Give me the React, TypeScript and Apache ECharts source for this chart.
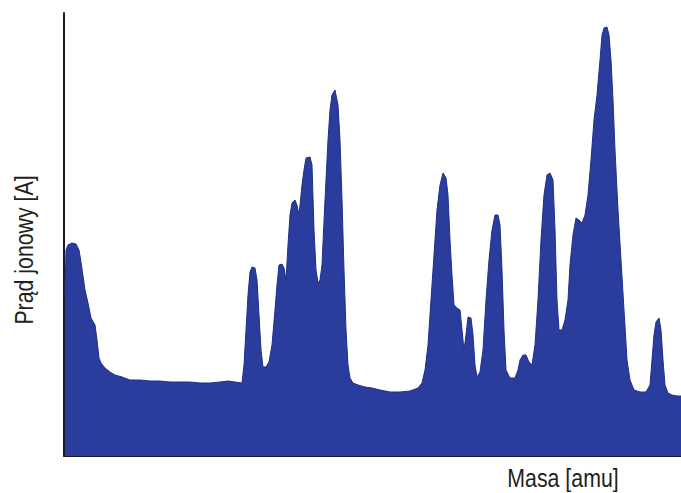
import React, { useEffect, useRef } from "react";
import * as echarts from "echarts";

const masses = [
  1, 2, 4, 8, 12, 15, 17, 21, 24, 27,
  31, 33, 35, 37, 41, 46, 51, 58, 66, 76,
  86, 96, 106, 116, 126, 136, 146, 156, 164, 171,
  178, 180, 182, 184, 186, 188, 191, 193, 195, 197,
  199, 202, 205, 208, 211, 213, 215, 218, 220, 222,
  224, 226, 228, 231, 233, 235, 238, 240, 242, 246,
  248, 250, 252, 254, 256, 258, 261, 264, 266, 268,
  271, 274, 276, 278, 280, 282, 284, 286, 289, 294,
  301, 308, 316, 326, 336, 346, 354, 358, 361, 364,
  367, 370, 373, 376, 379, 382, 384, 386, 388, 390,
  393, 396, 398, 400, 402, 404, 407, 409, 411, 413,
  416, 419, 422, 425, 428, 431, 434, 436, 438, 440,
  442, 446, 451, 454, 456, 459, 462, 465, 468, 471,
  474, 477, 480, 483, 486, 489, 491, 493, 495, 498,
  501, 504, 506, 509, 512, 515, 518, 521, 524, 527,
  530, 533, 536, 538, 540, 543, 545, 547, 549, 551,
  554, 557, 560, 563, 566, 570, 576, 582, 586, 588,
  590, 592, 595, 597, 599, 601, 604, 608, 613, 617,
];

const currents = [
  163, 206, 211, 213, 212, 206, 194, 166, 153, 138,
  131, 116, 98, 93, 88, 84, 81, 79, 76, 76,
  75, 75, 74, 74, 74, 73, 73, 74, 75, 74,
  73, 91, 126, 161, 184, 189, 188, 176, 141, 106,
  89, 89, 94, 111, 146, 171, 191, 192, 188, 176,
  211, 241, 253, 256, 251, 241, 271, 286, 298, 299,
  291, 226, 186, 173, 176, 191, 256, 316, 346, 361,
  366, 351, 316, 256, 186, 126, 91, 78, 73, 71,
  69, 68, 66, 64, 64, 65, 68, 73, 86, 111,
  156, 201, 246, 271, 283, 278, 261, 216, 181, 151,
  148, 146, 126, 106, 121, 139, 138, 121, 91, 79,
  84, 106, 156, 196, 226, 241, 241, 231, 186, 126,
  86, 78, 78, 86, 96, 101, 101, 94, 91, 111,
  156, 216, 261, 281, 283, 276, 226, 156, 126, 126,
  136, 156, 191, 221, 238, 236, 233, 241, 261, 296,
  336, 361, 396, 421, 428, 429, 421, 396, 356, 306,
  246, 196, 146, 96, 76, 66, 64, 64, 71, 96,
  121, 134, 138, 126, 96, 71, 63, 61, 60, 60,
];

const xAxisTitle = "Masa [amu]";
const yAxisTitle = "Prąd jonowy [A]";

const FONT = "'Liberation Sans', Arial, sans-serif";

export default function App() {
  const ref = useRef<HTMLDivElement>(null);

  useEffect(() => {
    if (!ref.current) return;
    const chart = echarts.init(ref.current, undefined, { renderer: "svg" });
    const data = masses.map((m, i) => [m, currents[i]]);
    chart.setOption({
      animation: false,
      backgroundColor: "#ffffff",
      grid: { left: 64, right: 0, top: 13, bottom: 37 },
      xAxis: {
        type: "value",
        min: 0,
        max: 617,
        axisLine: { show: true, onZero: false, lineStyle: { color: "#1c1c24", width: 2 } },
        axisTick: { show: false },
        axisLabel: { show: false },
        splitLine: { show: false },
      },
      yAxis: {
        type: "value",
        min: 0,
        max: 443,
        axisLine: { show: true, lineStyle: { color: "#1c1c24", width: 2 } },
        axisTick: { show: false },
        axisLabel: { show: false },
        splitLine: { show: false },
      },
      series: [
        {
          type: "line",
          data,
          symbol: "none",
          lineStyle: { color: "#1f2f8a", width: 1 },
          areaStyle: { color: "#2a3c9c", opacity: 1 },
          z: 1,
        },
      ],
      graphic: [
        {
          type: "text",
          x: 563,
          y: 478,
          scaleX: 0.82,
          style: {
            text: xAxisTitle,
            fontFamily: FONT,
            fontSize: 26,
            fill: "#231f20",
            textAlign: "center",
            textVerticalAlign: "middle",
          },
        },
        {
          type: "text",
          x: 24,
          y: 250,
          rotation: Math.PI / 2,
          scaleX: 0.82,
          style: {
            text: yAxisTitle,
            fontFamily: FONT,
            fontSize: 26,
            fill: "#231f20",
            textAlign: "center",
            textVerticalAlign: "middle",
          },
        },
      ],
    });
    return () => chart.dispose();
  }, []);

  return (
    <div
      ref={ref}
      style={{ position: "absolute", left: 0, top: 0, width: 681, height: 493 }}
    />
  );
}
